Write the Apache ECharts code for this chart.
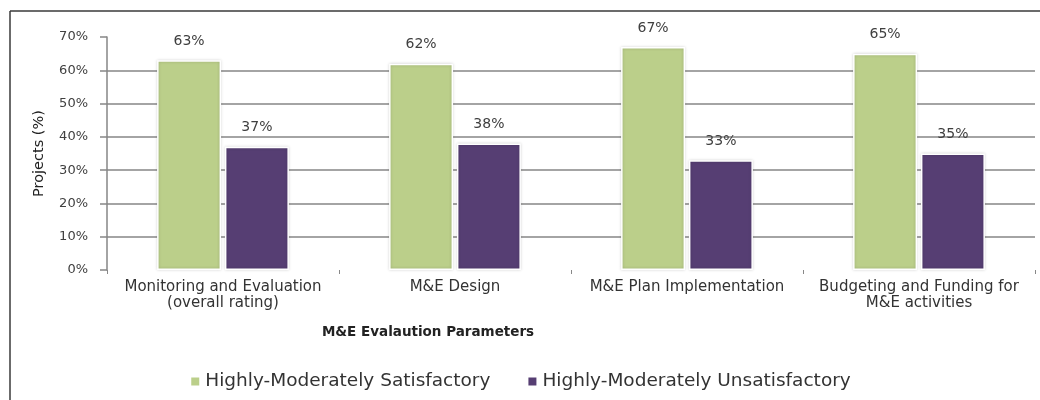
<!DOCTYPE html>
<html>
<head>
<meta charset="utf-8">
<script src="https://cdn.jsdelivr.net/npm/echarts@6/dist/echarts.min.js"></script>
<style>
  html, body { margin: 0; padding: 0; background: #fff; }
  #chart { width: 1040px; height: 400px; }
</style>
</head>
<body>
<div id="chart"></div>
<script>
const categories = [
  "Monitoring and Evaluation\n(overall rating)",
  "M&E Design",
  "M&E Plan Implementation",
  "Budgeting and Funding for\nM&E activities",
];
const satisfactory = [63, 62, 67, 65];
const unsatisfactory = [37, 38, 33, 35];
const seriesNames = ["Highly-Moderately Satisfactory", "Highly-Moderately Unsatisfactory"];

const font = "'DejaVu Sans', 'Liberation Sans', sans-serif";

const barLabel = {
  show: true,
  position: "top",
  distance: 12,
  formatter: "{c}%",
  fontFamily: font,
  fontSize: 14,
  color: "#404040",
};

const barStyle = (color) => ({
  color: color,
  borderColor: "#ffffff",
  borderWidth: 1.5,
  shadowColor: "rgba(0,0,0,0.2)",
  shadowBlur: 3,
});

const chart = echarts.init(document.getElementById("chart"));
chart.setOption({
  animation: false,
  grid: { left: 107, right: 5, top: 37, bottom: 130 },
  legend: {
    data: seriesNames,
    top: 367,
    left: "center",
    icon: "rect",
    itemWidth: 10,
    itemHeight: 10,
    itemGap: 36,
    textStyle: { fontFamily: font, fontSize: 18.5, color: "#333" },
  },
  xAxis: {
    type: "category",
    data: categories,
    name: "M&E Evalaution Parameters",
    nameLocation: "middle",
    nameGap: 55,
    nameTextStyle: {
      fontFamily: font,
      fontSize: 13.5,
      fontWeight: "bold",
      color: "#222",
      padding: [0, 286, 0, 0],
    },
    axisLine: { show: false },
    axisTick: { show: true, length: 4, lineStyle: { color: "#888" } },
    axisLabel: {
      fontFamily: font,
      fontSize: 15,
      color: "#333",
      lineHeight: 16,
      margin: 9,
      interval: 0,
    },
  },
  yAxis: {
    type: "value",
    min: 0,
    max: 70,
    interval: 10,
    name: "Projects (%)",
    nameLocation: "middle",
    nameGap: 60,
    nameTextStyle: { fontFamily: font, fontSize: 14.5, color: "#222" },
    axisLine: { show: true, lineStyle: { color: "#868686", width: 1.5 } },
    axisTick: { show: true, length: 7, lineStyle: { color: "#868686", width: 1.5 } },
    axisLabel: {
      formatter: "{value}%",
      fontFamily: font,
      fontSize: 13,
      color: "#404040",
      margin: 19,
    },
    splitLine: {
      show: true,
      showMinLine: false,
      showMaxLine: false,
      lineStyle: { color: "#868686", width: 1.5 },
    },
  },
  series: [
    {
      name: seriesNames[0],
      type: "bar",
      data: satisfactory,
      barWidth: 64,
      barGap: "6%",
      itemStyle: barStyle("#bbcf8a"),
      label: barLabel,
    },
    {
      name: seriesNames[1],
      type: "bar",
      data: unsatisfactory,
      barWidth: 64,
      barGap: "6%",
      itemStyle: barStyle("#563e73"),
      label: barLabel,
    },
  ],
  // picture frame round the chart
  graphic: [
    { type: "line", shape: { x1: 10, y1: 11, x2: 1040, y2: 11 }, style: { stroke: "#3a3a3a", lineWidth: 1.5 } },
    { type: "line", shape: { x1: 10, y1: 11, x2: 10, y2: 400 }, style: { stroke: "#3a3a3a", lineWidth: 1.5 } },
  ],
});
</script>
</body>
</html>
